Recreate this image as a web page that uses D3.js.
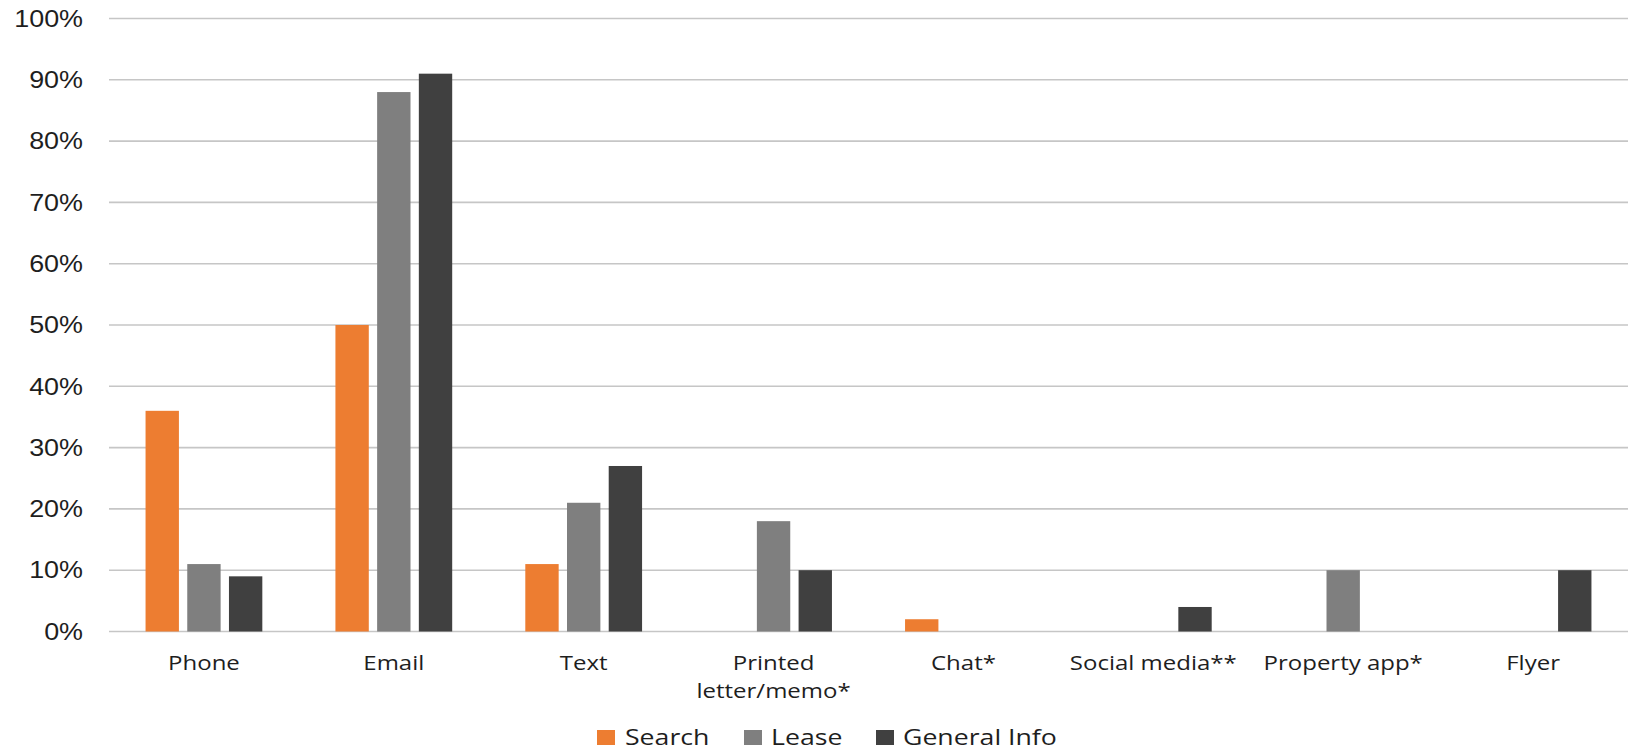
<!DOCTYPE html>
<html>
<head>
<meta charset="utf-8">
<script src="https://cdn.jsdelivr.net/npm/d3@7"></script>
<style>
  html, body { margin: 0; padding: 0; background: #fff; }
  svg { display: block; }
</style>
</head>
<body>
<svg id="chart" width="1630" height="751"></svg>
<script>
// Communication channels by purpose (share of respondents, %)
const categories = [
  ["Phone"], ["Email"], ["Text"], ["Printed", "letter/memo*"],
  ["Chat*"], ["Social media**"], ["Property app*"], ["Flyer"]
];
const seriesNames = ["Search", "Lease", "General Info"];
const searchValues  = [36, 50, 11, 0, 2, 0, 0, 0];
const leaseValues   = [11, 88, 21, 18, 0, 0, 10, 0];
const generalValues = [9, 91, 27, 10, 0, 4, 0, 10];
const yTicks = [0, 10, 20, 30, 40, 50, 60, 70, 80, 90, 100];
const colors = ["#ED7D31", "#7F7F7F", "#404040"];

const seriesValues = [searchValues, leaseValues, generalValues];
const rows = categories.map((c, i) => ({
  key: c.join(" "),
  lines: c,
  values: seriesNames.map((s, k) => ({ series: s, k, value: seriesValues[k][i] }))
}));

const svg = d3.select("#chart");
const plot = { left: 109, right: 1628, top: 18.5, bottom: 631.5 };

const x0 = d3.scaleBand()
  .domain(rows.map(r => r.key))
  .range([plot.left, plot.right])
  .paddingInner(0.385)
  .paddingOuter(0.1925);

const x1 = d3.scaleBand()
  .domain(seriesNames)
  .range([0, x0.bandwidth()])
  .paddingInner(0.2);

const y = d3.scaleLinear().domain([0, 100]).range([plot.bottom, plot.top]);

// Horizontal gridlines
svg.append("g")
  .selectAll("line")
  .data(yTicks)
  .join("line")
  .attr("x1", plot.left)
  .attr("x2", plot.right)
  .attr("y1", d => y(d))
  .attr("y2", d => y(d))
  .attr("stroke", "#c6c6c6")
  .attr("stroke-width", 1.6);

// Y-axis labels
svg.append("g")
  .selectAll("text")
  .data(yTicks)
  .join("text")
  .attr("transform", d => `translate(83,${y(d)}) scale(1.17,1)`)
  .attr("text-anchor", "end")
  .attr("dy", "0.36em")
  .attr("font-family", "'Liberation Sans', Arial, sans-serif")
  .attr("font-size", 23)
  .attr("fill", "#1e1e1e")
  .text(d => d + "%");

// Bars
const groups = svg.append("g")
  .selectAll("g")
  .data(rows)
  .join("g")
  .attr("transform", d => `translate(${x0(d.key)},0)`);

groups.selectAll("rect")
  .data(d => d.values.filter(v => v.value > 0))
  .join("rect")
  .attr("x", d => x1(d.series))
  .attr("width", x1.bandwidth())
  .attr("y", d => y(d.value))
  .attr("height", d => y(0) - y(d.value))
  .attr("fill", d => colors[d.k]);

// Category labels
const xl = svg.append("g")
  .selectAll("text")
  .data(rows)
  .join("text")
  .attr("transform", d => `translate(${x0(d.key) + x0.bandwidth() / 2},670) scale(1.2,1)`)
  .attr("text-anchor", "middle")
  .attr("font-family", "'Open Sans', 'Noto Sans', sans-serif")
  .attr("font-size", 20)
  .attr("fill", "#1e1e1e");

xl.selectAll("tspan")
  .data(d => d.lines)
  .join("tspan")
  .attr("x", 0)
  .attr("y", (d, i) => i * 28)
  .text(d => d);

// Legend
const legendItems = [
  { name: seriesNames[0], sx: 597, tx: 625 },
  { name: seriesNames[1], sx: 744, tx: 771 },
  { name: seriesNames[2], sx: 876, tx: 903 }
];
const legend = svg.append("g");
legendItems.forEach((item, k) => {
  legend.append("rect")
    .attr("x", item.sx)
    .attr("y", 730)
    .attr("width", 18)
    .attr("height", 15)
    .attr("fill", colors[k]);
  legend.append("text")
    .attr("transform", `translate(${item.tx},744.5) scale(1.27,1)`)
    .attr("font-family", "'Open Sans', 'Noto Sans', sans-serif")
    .attr("font-size", 21)
    .attr("fill", "#1e1e1e")
    .text(item.name);
});
</script>
</body>
</html>
